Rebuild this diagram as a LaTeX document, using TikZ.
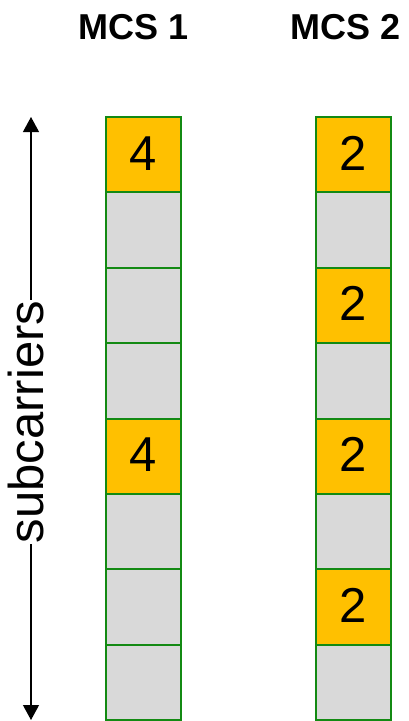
\documentclass[tikz,border=0pt]{standalone}
\usepackage{fontspec}
\setmainfont{Liberation Sans}
\usetikzlibrary{arrows.meta}
\definecolor{cellorange}{HTML}{FFC000}
\definecolor{cellgray}{HTML}{D9D9D9}
\definecolor{cellborder}{HTML}{138A13}
\begin{document}
\begin{tikzpicture}[x=1pt,y=-1pt,
  cell/.style={draw=cellborder, line width=2pt, fill=cellgray, minimum width=75pt, minimum height=75.375pt, inner sep=0pt, outer sep=0pt},
  hot/.style={cell, fill=cellorange},
  digit/.style={font=\fontsize{49}{49}\selectfont, inner sep=0pt},
  title/.style={font=\fontsize{36}{36}\selectfont\bfseries, inner sep=0pt, anchor=base},
  axis/.style={line width=1.2pt, {Triangle[width=16pt,length=15pt]}-{Triangle[width=16pt,length=15pt]}},
  axislabel/.style={font=\fontsize{49}{49}\selectfont, fill=white, inner xsep=1pt, inner ysep=0pt, rotate=90, anchor=base}]
\useasboundingbox (0,0) rectangle (408,721);
\node[title] (t1) at (134,39) {MCS 1};
\node[title] (t2) at (346,39) {MCS 2};
% column 1
\foreach \i in {0,...,7}{
  \node[cell] (a\i) at (143.5,{117+75.375*(\i+0.5)}) {};
  \node[cell] (b\i) at (353.5,{117+75.375*(\i+0.5)}) {};
}
\foreach \i in {0,4}{
  \node[hot] (a\i) at (143.5,{117+75.375*(\i+0.5)}) {};
  \node[digit, anchor=base] (da\i) at (143.5,{117+75.375*\i+53}) {4};
}
\foreach \i in {0,2,4,6}{
  \node[hot] (b\i) at (353.5,{117+75.375*(\i+0.5)}) {};
  \node[digit, anchor=base] (db\i) at (353.5,{117+75.375*\i+53}) {2};
}
\coordinate (atop) at (31,117);
\coordinate (abot) at (31,720);
\draw[axis] (atop) -- (abot);
\node[axislabel] (lbl) at (43,422) {subcarriers};
\end{tikzpicture}
\end{document}
